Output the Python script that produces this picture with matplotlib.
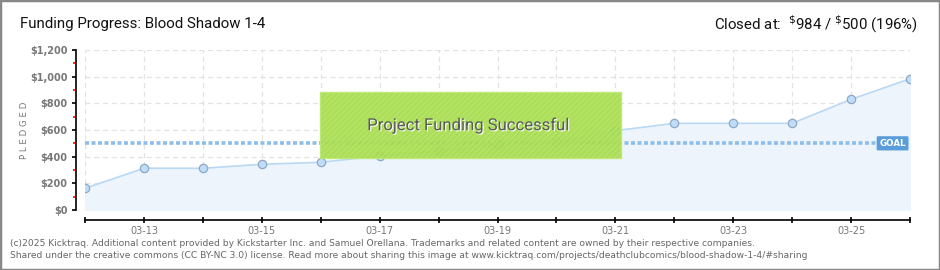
import matplotlib
matplotlib.use("Agg")
import matplotlib.pyplot as plt
import matplotlib.patches as patches
import matplotlib.dates as mdates
import matplotlib.patheffects as pe
import datetime as dt

# daily pledged totals
days = [dt.date(2025, 3, d) for d in range(12, 27)]
pledged = [163, 313, 313, 343, 358, 405, 443, 488, 508, 595, 650, 650, 650, 830, 984]
goal = 500
yticks = [0, 200, 400, 600, 800, 1000, 1200]
ylabels = ["$0", "$200", "$400", "$600", "$800", "$1,000", "$1,200"]

plt.rcParams["hatch.color"] = "#9bd23f"
plt.rcParams["hatch.linewidth"] = 0.6

fig = plt.figure(figsize=(9.4, 2.7), dpi=100)
ax = fig.add_axes([85 / 940, 60 / 270, 825 / 940, 160 / 270])

ax.fill_between(days, pledged, 0, color="#edf4fc", zorder=1)
ax.plot(days, pledged, color="#b9d8f4", lw=1.2, zorder=3)
ax.plot(days, pledged, "o", ms=6, mfc="#bfdcf8", mec="#8ea9c4", mew=0.9, zorder=4)

ax.axhline(goal, color="#8fbde9", lw=2.6, ls=(0, (1.1, 0.7)), zorder=2)

ax.set_xlim(days[0], days[-1])
ax.set_ylim(0, 1200)
ax.set_yticks(yticks)
ax.set_yticklabels(ylabels)
ax.set_yticks(range(100, 1200, 200), minor=True)
ax.xaxis.set_major_locator(mdates.DayLocator())
ax.xaxis.set_major_formatter(plt.FuncFormatter(
    lambda v, p: mdates.num2date(v).strftime("%m-%d") if mdates.num2date(v).day % 2 == 1 else ""))

ax.grid(True, color="#e2e2e2", ls=(0, (4, 3)), lw=0.9)
ax.set_axisbelow(True)
for s in ["top", "right"]:
    ax.spines[s].set_visible(False)
ax.spines["left"].set_position(("outward", 6.5))
ax.spines["bottom"].set_position(("outward", 7.2))
ax.spines["left"].set_linewidth(1.2)
ax.spines["bottom"].set_linewidth(1.2)

ax.tick_params(axis="y", which="major", direction="out", length=3, width=1.2,
               labelsize=7, labelcolor="#777777", pad=3)
ax.tick_params(axis="y", which="minor", direction="out", length=2.2, width=1.2, color="red")
ax.tick_params(axis="x", which="major", direction="inout", length=5, width=1.2,
               labelsize=7, labelcolor="#777777", pad=1.5)
for lbl in ax.get_yticklabels():
    lbl.set_fontweight("bold")

ax.text(-0.073, 0.5, "P L E D G E D", transform=ax.transAxes, rotation=90,
        ha="center", va="center", fontsize=6.2, color="#777777")

# success banner
ax.add_patch(patches.Rectangle((0.285, 0.323), 0.365, 0.413, transform=ax.transAxes,
                               facecolor="#a6dc4c", edgecolor="#bde874", lw=1,
                               alpha=0.93, hatch="//////", zorder=6))
ax.text(0.464, 0.53, "Project Funding Successful", transform=ax.transAxes,
        ha="center", va="center", fontsize=12, color="#5a5a5a", zorder=7,
        fontfamily="Roboto",
        path_effects=[pe.withSimplePatchShadow(offset=(0.8, -0.8), shadow_rgbFace="white", alpha=0.9)])

# goal tag
ax.text(0.995, goal, "GOAL", transform=ax.get_yaxis_transform(), ha="right", va="center",
        fontsize=6.3, color="white", fontweight="bold", zorder=7,
        bbox=dict(boxstyle="round,pad=0.3,rounding_size=0.15", fc="#5b9ddb", ec="none"))

fig.text(20 / 940, 1 - 24 / 270, "Funding Progress: Blood Shadow 1-4", ha="left", va="center",
         fontsize=10.8, color="#111111", fontfamily="Roboto")
fig.text(918 / 940, 1 - 24 / 270, r"Closed at:  $^{\$}$984 / $^{\$}$500 (196%)", ha="right",
         va="center", fontsize=10.8, color="#111111", fontfamily="Roboto")

fig.text(10 / 940, 1 - 243 / 270,
         "(c)2025 Kicktraq. Additional content provided by Kickstarter Inc. and Samuel Orellana. "
         "Trademarks and related content are owned by their respective companies.",
         fontsize=6.6, color="#666666", va="center")
fig.text(10 / 940, 1 - 256 / 270,
         "Shared under the creative commons (CC BY-NC 3.0) license. Read more about sharing this image at "
         "www.kicktraq.com/projects/deathclubcomics/blood-shadow-1-4/#sharing",
         fontsize=6.6, color="#666666", va="center")

fig.add_artist(patches.Rectangle((0, 0), 1, 1, transform=fig.transFigure, fill=False,
                                 edgecolor="#888888", lw=2.5))

fig.savefig("out.png", dpi=100)
